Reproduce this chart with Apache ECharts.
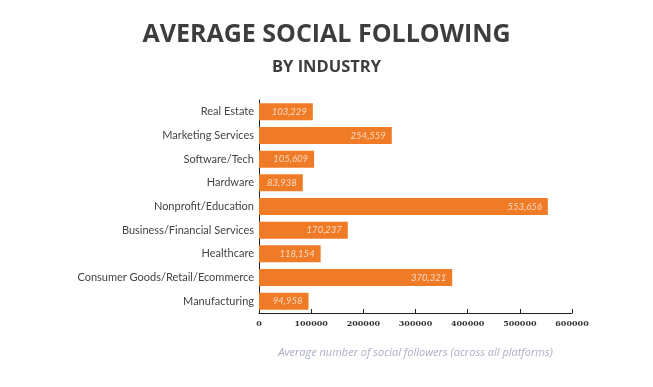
<!DOCTYPE html>
<html><head><meta charset="utf-8">
<script src="https://cdn.jsdelivr.net/npm/echarts@6/dist/echarts.min.js"></script>
<style>html,body{margin:0;padding:0;background:#fff}#c{width:653px;height:387px}</style>
</head><body><div id="c"></div>
<script>
const categories = ["Real Estate","Marketing Services","Software/Tech","Hardware","Nonprofit/Education","Business/Financial Services","Healthcare","Consumer Goods/Retail/Ecommerce","Manufacturing"];
const values = [103229,254559,105609,83938,553656,170237,118154,370321,94958];
const xTicks = [0,100000,200000,300000,400000,500000,600000];

const chart = echarts.init(document.getElementById('c'));
chart.setOption({
  animation:false,
  backgroundColor:'#fff',
  title:[
    {text:'AVERAGE SOCIAL FOLLOWING',left:'center',top:17,textStyle:{fontFamily:'Open Sans',fontWeight:'bold',fontSize:25,color:'#3d3d3d'}},
    {text:'BY INDUSTRY',left:'center',top:54,textStyle:{fontFamily:'Open Sans',fontWeight:'bold',fontSize:16.5,color:'#3d3d3d'}}
  ],
  grid:{left:259,right:81,top:100,bottom:74,containLabel:false},
  xAxis:{type:'value',min:0,max:600000,interval:100000,
    axisLine:{show:true,lineStyle:{color:'#222',width:1}},
    axisTick:{show:true,inside:true,length:4,lineStyle:{color:'#222'}},
    splitLine:{show:false},
    axisLabel:{fontFamily:'DejaVu Serif',fontSize:8,color:'#333',margin:7,fontWeight:'bold',
      formatter:v=>String(v)},
    name:'Average number of social followers (across all platforms)',
    nameLocation:'middle',nameGap:34,
    nameTextStyle:{fontFamily:'Open Sans',fontStyle:'italic',fontSize:11,color:'#a9afc2'}
  },
  yAxis:{type:'category',data:categories,inverse:true,
    axisLine:{show:true,lineStyle:{color:'#222'}},
    axisTick:{show:false},
    axisLabel:{fontFamily:'Lato',fontSize:11,color:'#444',margin:5}
  },
  series:[{type:'bar',data:values,barWidth:17,
    itemStyle:{color:'#f07b27'},
    label:{show:true,position:'insideRight',distance:6,color:'#fbd9c0',fontStyle:'italic',fontSize:9.5,fontFamily:'Lato',
      formatter:p=>p.value.toLocaleString('en-US')}
  }]
});
</script></body></html>
